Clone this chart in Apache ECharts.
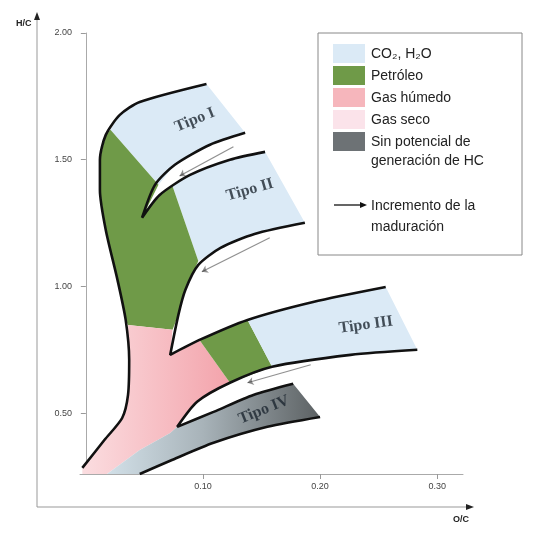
<!DOCTYPE html>
<html><head><meta charset="utf-8">
<script src="https://cdn.jsdelivr.net/npm/echarts@6/dist/echarts.min.js"></script>
<style>html,body{margin:0;background:#fff}#main{width:541px;height:533px}</style>
</head><body><div id="main"></div>
<script>
// O/C, H/C points
var blueI = [[0.021,1.618],[0.029,1.677],[0.046,1.728],[0.103,1.799],[0.136,1.606],[0.106,1.559],[0.076,1.480],[0.062,1.401]];
var blueII = [[0.074,1.395],[0.089,1.440],[0.123,1.500],[0.153,1.531],[0.187,1.251],[0.144,1.207],[0.115,1.152],[0.096,1.100]];
var greenTop = [[0.021,1.618],[0.062,1.401],[0.048,1.271],[0.063,1.361],[0.074,1.395],[0.096,1.100],[0.085,0.987],[0.079,0.888],[0.074,0.829],[0.036,0.848],[0.034,0.868],[0.027,1.026],[0.017,1.223],[0.012,1.381],[0.012,1.500],[0.017,1.598]];
var pinkZone = [[0.036,0.848],[0.074,0.829],[0.072,0.730],[0.097,0.789],[0.123,0.620],[0.095,0.545],[0.078,0.446],[0.072,0.422],[0.046,0.355],[0.018,0.260],[-0.003,0.260],[-0.003,0.284],[0.016,0.395],[0.031,0.481],[0.036,0.572],[0.037,0.710]];
var greenIII = [[0.097,0.789],[0.138,0.868],[0.159,0.683],[0.123,0.620]];
var blueIII = [[0.138,0.868],[0.194,0.939],[0.256,0.998],[0.283,0.750],[0.226,0.730],[0.159,0.683]];
var grayZone = [[0.018,0.260],[0.046,0.355],[0.072,0.422],[0.078,0.446],[0.109,0.505],[0.143,0.572],[0.177,0.616],[0.200,0.485],[0.155,0.446],[0.109,0.383],[0.074,0.316],[0.046,0.260]];

var line1 = [[-0.003,0.284],[0.016,0.395],[0.031,0.481],[0.036,0.572],[0.037,0.710],[0.034,0.868],[0.027,1.026],[0.017,1.223],[0.012,1.381],[0.012,1.500],[0.017,1.598],[0.029,1.677],[0.046,1.728],[0.103,1.799]];
var line2 = [[0.136,1.606],[0.106,1.559],[0.076,1.480],[0.059,1.401],[0.048,1.271],[0.063,1.361],[0.089,1.440],[0.123,1.500],[0.153,1.531]];
var line3 = [[0.187,1.251],[0.144,1.207],[0.115,1.152],[0.096,1.085],[0.085,0.987],[0.079,0.888],[0.072,0.730],[0.097,0.789],[0.138,0.868],[0.194,0.939],[0.256,0.998]];
var line4 = [[0.283,0.750],[0.226,0.730],[0.159,0.683],[0.123,0.620],[0.095,0.545],[0.078,0.446],[0.109,0.505],[0.143,0.572],[0.177,0.616]];
var line5 = [[0.200,0.485],[0.155,0.446],[0.109,0.383],[0.074,0.316],[0.046,0.260]];

var arrows = [[[0.126,1.551],[0.080,1.436]],[[0.157,1.192],[0.099,1.058]],[[0.192,0.691],[0.138,0.620]]];
var typeNames = ['Tipo I','Tipo II','Tipo III','Tipo IV'];
var typePos = [[0.093,1.657],[0.140,1.381],[0.239,0.848],[0.152,0.513]];
var typeRot = [22,16,8,22];

var xTicks = [0.1,0.2,0.3];
var yTicks = [0.5,1.0,1.5,2.0];
var legendNames = ['CO\u2082, H\u2082O','Petróleo','Gas húmedo','Gas seco','Sin potencial de\ngeneración de HC'];

var gray = new echarts.graphic.LinearGradient(0,0,1,0,[{offset:0,color:'#d2e0e8'},{offset:0.45,color:'#a8b3b9'},{offset:1,color:'#5c6163'}]);
var pink = new echarts.graphic.LinearGradient(0,0,1,0,[{offset:0,color:'#fbdde0'},{offset:1,color:'#f3a3ab'}]);
var regions = [
  {pts:blueI, fill:'#dbeaf6'},{pts:blueII, fill:'#dbeaf6'},{pts:greenTop, fill:'#6f9a48'},
  {pts:pinkZone, fill:pink},{pts:greenIII, fill:'#6f9a48'},{pts:blueIII, fill:'#dbeaf6'},{pts:grayZone, fill:gray}
];
var legendColors = ['#dbeaf6','#6f9a48','#f6b6bc','#fbe3ea','#6d7275'];

var chart = echarts.init(document.getElementById('main'));
var series = [{
  type:'custom', silent:true,
  data: regions.map(function(r,i){return [i];}),
  renderItem: function(params, api){
    var r = regions[api.value(0)];
    return {type:'polygon', shape:{points:r.pts.map(function(p){return api.coord(p);})}, style:{fill:r.fill}};
  }
}];
[line1,line2,line3,line4,line5].forEach(function(l){
  series.push({type:'line', data:l, symbol:'none', smooth:0.25, silent:true, lineStyle:{color:'#111',width:2.6}});
});
series.push({type:'lines', coordinateSystem:'cartesian2d', silent:true, symbol:['none','arrow'], symbolSize:6,
  lineStyle:{color:'#222',width:1.2}, data: arrows.map(function(a){return {coords:a};})});
series.push({type:'scatter', symbolSize:0, silent:true,
  data: typeNames.map(function(n,i){return {value:typePos[i], name:n, label:{rotate:typeRot[i]}};}),
  label:{show:true, position:'inside', formatter:'{b}', fontFamily:'Liberation Serif', fontWeight:'bold', fontSize:16, color:'#1c2530'}});

var graphics = [
  {type:'line', shape:{x1:37,y1:14,x2:37,y2:507}, style:{stroke:'#999',lineWidth:1}},
  {type:'line', shape:{x1:37,y1:507,x2:468,y2:507}, style:{stroke:'#999',lineWidth:1}},
  {type:'polygon', shape:{points:[[34,20],[40,20],[37,12]]}, style:{fill:'#222'}},
  {type:'polygon', shape:{points:[[466,504],[466,510],[474,507]]}, style:{fill:'#222'}},
  {type:'text', left:16, top:19, style:{text:'H/C', font:'bold 9px Liberation Sans', fill:'#222'}},
  {type:'text', left:453, top:515, style:{text:'O/C', font:'bold 9px Liberation Sans', fill:'#222'}},
  {type:'rect', shape:{x:318,y:33,width:204,height:222}, style:{fill:'#fff',stroke:'#888',lineWidth:1}}
];
var rowsY = [44,66,88,110,132];
legendNames.forEach(function(n,i){
  graphics.push({type:'rect', shape:{x:333,y:rowsY[i],width:32,height:19}, style:{fill:legendColors[i]}});
  graphics.push({type:'text', left:371, top:rowsY[i]+1, style:{text:n, font:'14px Liberation Sans', fill:'#222', lineHeight:19}});
});
graphics.push({type:'line', shape:{x1:334,y1:205,x2:362,y2:205}, style:{stroke:'#111',lineWidth:1.3}});
graphics.push({type:'polygon', shape:{points:[[360,202],[360,208],[367,205]]}, style:{fill:'#111'}});
graphics.push({type:'text', left:371, top:196, style:{text:'Incremento de la\nmaduración', font:'14px Liberation Sans', fill:'#222', lineHeight:21}});

chart.setOption({
  animation:false,
  grid:{left:80, right:78, top:33, bottom:59},
  xAxis:{type:'value', min:-0.005, max:0.322,
    axisLine:{lineStyle:{color:'#aaa'}},
    axisTick:{customValues:xTicks, length:5, lineStyle:{color:'#999'}},
    axisLabel:{customValues:xTicks, color:'#444', fontSize:9, formatter:function(v){return v.toFixed(2);}},
    splitLine:{show:false}},
  yAxis:{type:'value', min:0.26, max:2.0,
    axisLine:{show:true, lineStyle:{color:'#aaa'}},
    axisTick:{show:true, customValues:yTicks, length:5, lineStyle:{color:'#999'}},
    axisLabel:{customValues:yTicks, color:'#444', fontSize:9, formatter:function(v){return v.toFixed(2);}},
    splitLine:{show:false}},
  series: series,
  graphic: graphics
});
</script></body></html>
